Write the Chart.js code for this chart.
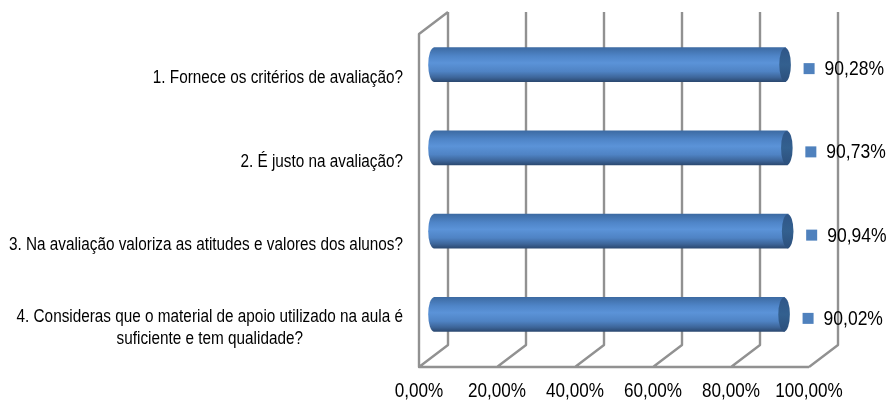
<!DOCTYPE html>
<html>
<head>
<meta charset="utf-8">
<script src="https://cdn.jsdelivr.net/npm/chart.js@4/dist/chart.umd.min.js"></script>
<style>
    html, body { margin: 0; padding: 0; background: #fff; }
    canvas { display: block; }
</style>
</head>
<body>
<canvas id="chart" width="890" height="401"></canvas>
<script>
const categories = [
    ['1. Fornece os critérios de avaliação?'],
    ['2. É justo na avaliação?'],
    ['3. Na avaliação valoriza as atitudes e valores dos alunos?'],
    ['4. Consideras que o material de apoio utilizado na aula é', 'suficiente e tem qualidade?']
];
const values = [90.28, 90.73, 90.94, 90.02];
const tickValues = [0, 20, 40, 60, 80, 100];

const FONT = '"Liberation Sans", Arial, sans-serif';
const NARROW = 0.875;    // no narrow font here, so the text is squeezed sideways
const DEPTH_X = 29;      // how far the back wall sits from the front plane
const DEPTH_Y = 22;
const CAP_RX = 5.8;
const GRID = '#919191';

function pct(v) {
    return v.toFixed(2).replace('.', ',') + '%';
}

function narrowText(ctx, text, x, y, scaleX) {
    ctx.save();
    ctx.translate(x, y);
    ctx.scale(scaleX, 1);
    ctx.fillText(text, 0, 0);
    ctx.restore();
}

function barGradient(ctx, top, bottom) {
    const g = ctx.createLinearGradient(0, top, 0, bottom);
    g.addColorStop(0, '#3d6ba3');
    g.addColorStop(0.25, '#4f85c8');
    g.addColorStop(0.45, '#5b93d8');
    g.addColorStop(0.7, '#4f83c4');
    g.addColorStop(0.88, '#3d6599');
    g.addColorStop(1, '#2c4a72');
    return g;
}

// 3d box walls and floor, taken from the x scale ticks
const wallsPlugin = {
    id: 'walls',
    beforeDatasetsDraw(chart) {
        const { ctx, scales: { x }, chartArea: a } = chart;
        ctx.save();
        ctx.strokeStyle = GRID;
        ctx.lineWidth = 2.4;
        ctx.lineJoin = 'round';
        ctx.beginPath();
        x.ticks.forEach(t => {
            const px = x.getPixelForValue(t.value);
            ctx.moveTo(px, a.bottom);
            ctx.lineTo(px + DEPTH_X, a.bottom - DEPTH_Y);
            ctx.lineTo(px + DEPTH_X, a.top - DEPTH_Y);
        });
        ctx.moveTo(a.right, a.bottom);
        ctx.lineTo(a.left, a.bottom);
        ctx.lineTo(a.left, a.top);
        ctx.lineTo(a.left + DEPTH_X, a.top - DEPTH_Y);
        ctx.stroke();
        ctx.restore();
    }
};

// shifts the bars to the middle of the depth and adds the cylinder ends
const cylinderPlugin = {
    id: 'cylinder',
    beforeDatasetDraw(chart) {
        const ctx = chart.ctx;
        const meta = chart.getDatasetMeta(0);
        ctx.save();
        ctx.translate(DEPTH_X / 2, -DEPTH_Y / 2);
        meta.data.forEach(bar => {
            const top = bar.y - bar.height / 2;
            ctx.fillStyle = barGradient(ctx, top, top + bar.height);
            ctx.beginPath();
            ctx.ellipse(bar.base + 0.5, bar.y, CAP_RX, bar.height / 2, 0, Math.PI / 2, Math.PI * 1.5);
            ctx.fill();
        });
    },
    afterDatasetDraw(chart) {
        const ctx = chart.ctx;
        const meta = chart.getDatasetMeta(0);
        meta.data.forEach(bar => {
            const top = bar.y - bar.height / 2;
            const g = ctx.createLinearGradient(0, top, 0, top + bar.height);
            g.addColorStop(0, '#2f5688');
            g.addColorStop(0.5, '#33608f');
            g.addColorStop(1, '#2c4f7c');
            ctx.fillStyle = g;
            ctx.beginPath();
            ctx.ellipse(bar.x - 0.5, bar.y, CAP_RX, bar.height / 2, 0, 0, Math.PI * 2);
            ctx.fill();
        });
        ctx.restore();
    }
};

// all text: category labels (the two line one is centred on itself), value labels with key, x ticks
const labelsPlugin = {
    id: 'labels',
    afterDatasetsDraw(chart) {
        const { ctx, scales: { x, y }, chartArea: a } = chart;
        const meta = chart.getDatasetMeta(0);
        ctx.save();
        ctx.fillStyle = '#000';
        ctx.textBaseline = 'middle';

        ctx.font = '17.5px ' + FONT;
        categories.forEach((lines, i) => {
            const cy = y.getPixelForValue(i) + 3;
            const widest = Math.max(...lines.map(l => ctx.measureText(l).width)) * NARROW;
            ctx.textAlign = lines.length > 1 ? 'center' : 'right';
            const lx = lines.length > 1 ? 403 - widest / 2 : 403;
            lines.forEach((l, j) => {
                narrowText(ctx, l, lx, cy + (j - (lines.length - 1) / 2) * 22, NARROW);
            });
        });

        ctx.textAlign = 'left';
        ctx.font = '20px ' + FONT;
        meta.data.forEach((bar, i) => {
            const keyX = bar.x + DEPTH_X / 2 + 18;
            const cy = bar.y - DEPTH_Y / 2 + 4;
            ctx.fillStyle = '#4f81bd';
            ctx.fillRect(keyX, cy - 5.5, 11, 11);
            ctx.fillStyle = '#000';
            narrowText(ctx, pct(values[i]), keyX + 21, cy + 1, NARROW);
        });

        ctx.textAlign = 'center';
        x.ticks.forEach(t => {
            narrowText(ctx, pct(t.value), x.getPixelForValue(t.value), a.bottom + 24, 0.855);
        });
        ctx.restore();
    }
};

new Chart(document.getElementById('chart'), {
    type: 'bar',
    data: {
        labels: categories,
        datasets: [{
            data: values,
            barThickness: 34,
            backgroundColor(c) {
                const cy = c.chart.scales.y.getPixelForValue(c.dataIndex);
                if (!Number.isFinite(cy)) return '#4f81bd';
                return barGradient(c.chart.ctx, cy - 17, cy + 17);
            }
        }]
    },
    plugins: [wallsPlugin, cylinderPlugin, labelsPlugin],
    options: {
        indexAxis: 'y',
        responsive: false,
        animation: false,
        layout: { padding: { left: 419, right: 81, top: 34, bottom: 0 } },
        plugins: { legend: { display: false }, tooltip: { enabled: false } },
        scales: {
            y: { display: false },
            x: {
                min: 0,
                max: 100,
                afterBuildTicks(scale) {
                    scale.ticks = tickValues.map(v => ({ value: v }));
                },
                afterFit(scale) {
                    scale.height = 34;
                },
                grid: { display: false, drawTicks: false },
                border: { display: false },
                ticks: { display: false }
            }
        }
    }
});
</script>
</body>
</html>
